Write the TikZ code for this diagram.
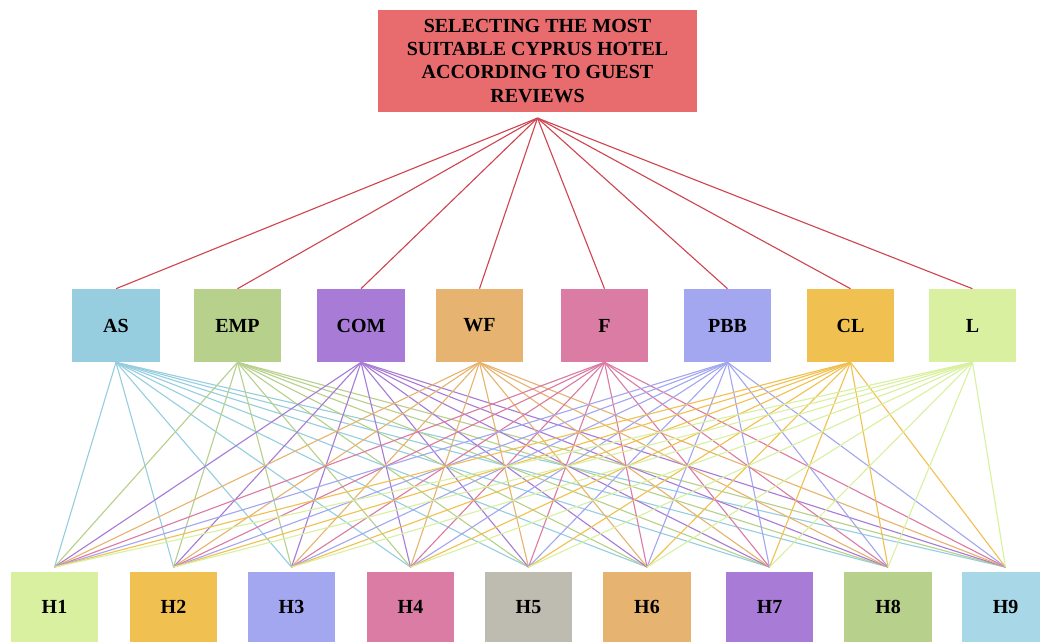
\documentclass[tikz,border=0pt]{standalone}
\usepackage{fontspec}
\setmainfont{Liberation Serif}
\usepackage{tikz}
\usetikzlibrary{positioning}
\definecolor{goalred}{RGB}{232,108,110}
\definecolor{goalline}{RGB}{206,70,80}
\definecolor{asblue}{RGB}{150,206,224}
\definecolor{empgreen}{RGB}{183,208,140}
\definecolor{compurple}{RGB}{168,124,214}
\definecolor{wftan}{RGB}{230,180,112}
\definecolor{fpink}{RGB}{218,124,164}
\definecolor{pbbblue}{RGB}{163,167,240}
\definecolor{clyellow}{RGB}{240,193,80}
\definecolor{llime}{RGB}{216,240,160}
\definecolor{hgrey}{RGB}{190,188,176}
\definecolor{h9blue}{RGB}{168,216,232}

\begin{document}
\begin{tikzpicture}[x=0.025cm,y=-0.025cm,
  box/.style={inner sep=0pt,font=\bfseries\fontsize{14.2}{16.4}\selectfont},
  goal/.style={box,fill=goalred,minimum width=7.975cm,minimum height=2.55cm,align=center,outer ysep=4.3pt},
  crit/.style={box,minimum width=2.175cm,minimum height=1.825cm},
  alt/.style={box,minimum width=2.175cm,minimum height=1.75cm,outer ysep=3.5pt}]
\useasboundingbox (0,0) rectangle (1040,644);
% goal
\node[goal] (goal) at (537.5,61) {SELECTING THE MOST\\SUITABLE CYPRUS HOTEL\\ACCORDING TO GUEST\\REVIEWS};
% criteria
\foreach \nm/\xx/\col in {AS/116/asblue,EMP/237.5/empgreen,COM/361/compurple,WF/479.5/wftan,F/604.5/fpink,PBB/727.5/pbbblue,CL/850.5/clyellow,L/972.5/llime}
  \node[crit,fill=\col] (\nm) at (\xx,325.5) {\nm};
% hotels
\foreach \i/\xx/\col in {1/54.5/llime,2/173.5/clyellow,3/291.5/pbbblue,4/410.5/fpink,5/528.5/hgrey,6/647/wftan,7/769.5/compurple,8/888/empgreen,9/1005.5/h9blue}
  \node[alt,fill=\col] (h\i) at (\xx,607) {H\i};
% links
\foreach \nm in {AS,EMP,COM,WF,F,PBB,CL,L}
  \draw[goalline,line width=0.8pt] (goal.south)--(\nm.north);
\foreach \nm/\col in {AS/asblue,EMP/empgreen,COM/compurple,WF/wftan,F/fpink,PBB/pbbblue,CL/clyellow,L/llime}
  \foreach \i in {1,...,9}
    \draw[\col,line width=0.8pt] (\nm.south)--(h\i.north);
\end{tikzpicture}
\end{document}
